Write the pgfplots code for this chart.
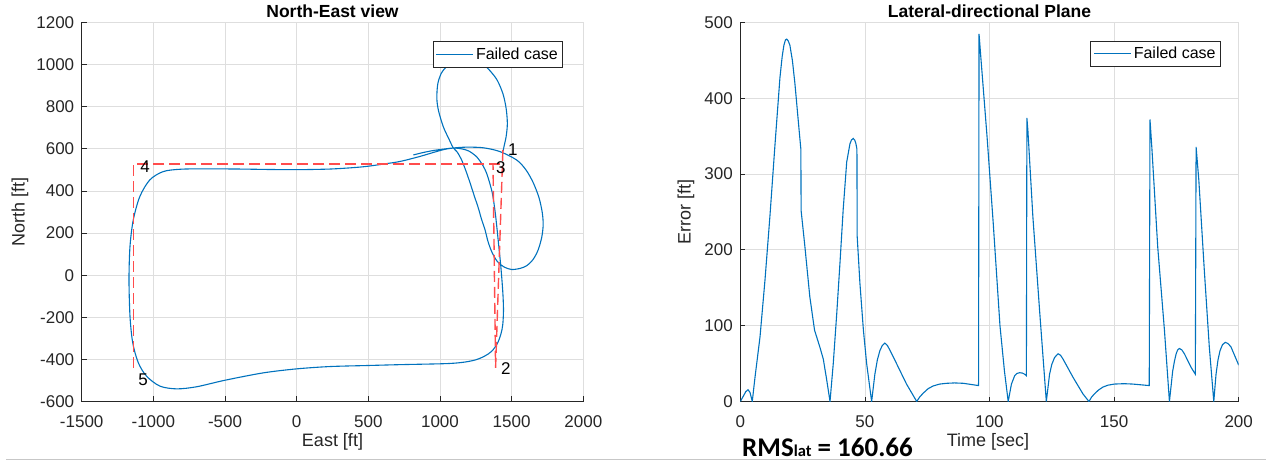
\documentclass[border=0pt]{standalone}
\usepackage{pgfplots}
\pgfplotsset{compat=1.18}
\usepackage{fontspec}
\setmainfont{Liberation Sans}
\newfontfamily\calibri{Carlito}

\definecolor{mblue}{rgb}{0,0.447,0.741}
\definecolor{mred}{rgb}{1,0.3,0.3}
\definecolor{axgray}{rgb}{0.15,0.15,0.15}
\definecolor{gridgray}{rgb}{0.87,0.87,0.87}

\pgfplotsset{
  matlab/.style={
    scale only axis,
    axis lines=left,
    axis line style={-, axgray, line width=1pt},
    grid=major,
    major grid style={gridgray, line width=0.8pt},
    tick align=inside,
    major tick length=5pt,
    tick style={axgray, line width=0.8pt},
    tick label style={font=\fontsize{17}{17}\selectfont, text=axgray},
    /pgf/number format/assume math mode=true,
    /pgf/number format/1000 sep={},
    scaled ticks=false,
    xticklabel style={yshift=-11pt},
    yticklabel style={xshift=-4pt},
    label style={font=\fontsize{18}{18}\selectfont, text=axgray},
    every axis title shift=0pt,
    title style={font=\bfseries\fontsize{17.5}{17.5}\selectfont, anchor=center, text=black},
    legend style={font=\fontsize{16}{16}\selectfont, draw=axgray, line width=0.8pt,
      fill=white, anchor=north east, inner xsep=3pt, inner ysep=4pt},
    legend image code/.code={\draw[#1] (0pt,0pt) -- (37pt,0pt);},
  }
}

\begin{document}
\begin{tikzpicture}
\path[use as bounding box] (0,0) rectangle (1266pt,463pt);

% ---------------- North-East view ----------------
\begin{axis}[matlab,
  at={(81.7pt,61.5pt)}, anchor=south west,
  width=501.6pt, height=379pt,
  xmin=-1500, xmax=2000, ymin=-600, ymax=1200,
  xtick={-1500,-1000,...,2000}, ytick={-600,-400,...,1200},
  title={North-East view},
  title style={at={(axis description cs:0.5,1.029)}},
  xlabel={East [ft]}, ylabel={North [ft]},
  xlabel style={at={(axis description cs:0.5,-0.106)}, anchor=center},
  ylabel style={at={(axis description cs:-0.123,0.5)}, anchor=center},
  legend style={at={(axis description cs:0.960,0.950)}},
]
% flown track
\addplot[mblue, line width=1.1pt, smooth, tension=0.5] coordinates {
 (814,571) (880,582) (953,592) (1030,599) (1093,604)
 (1150,600) (1200,590) (1256,562) (1300,520) (1326,483) (1350,430) (1368,380)
 (1385,300) (1398,220) (1410,140) (1422,60) (1432,-20) (1440,-100) (1443,-170)
 (1438,-235) (1425,-280) (1400,-325) (1360,-362) (1310,-385) (1250,-402)
 (1180,-412) (1100,-418) (1000,-421) (721,-425) (500,-429) (232,-434) (0,-445)
 (-233,-464) (-500,-499) (-698,-530) (-837,-540) (-954,-527) (-1047,-480)
 (-1105,-416) (-1144,-321) (-1163,-195) (-1170,-21) (-1163,137) (-1140,263)
 (-1094,374) (-1024,453) (-931,492) (-813,503) (-650,505) (-400,504) (-200,502)
 (0,501) (232,504) (400,511) (494,517) (608,528) (721,540) (850,562) (950,582)
 (1030,597) (1093,604)
 (1186,608) (1302,605) (1418,587) (1535,547) (1600,500) (1650,440) (1690,370)
 (1713,300) (1720,240) (1710,180) (1685,120) (1650,75) (1605,45) (1558,32)
 (1500,27) (1450,38) (1400,65) (1362,110) (1335,160) (1314,216) (1291,263)
 (1267,320) (1240,375) (1209,440) (1180,497) (1151,547) (1120,585) (1093,604)
 (1060,650) (1023,705) (990,780) (978,840) (985,910) (1010,960) (1045,990)
 (1090,1015) (1150,1032) (1220,1035) (1290,1010) (1350,970) (1400,925)
 (1440,860) (1462,790) (1470,720) (1462,660) (1448,615) (1440,588)
};
\addlegendentry{Failed case}
% reference waypoint legs
\addplot[mred, line width=1.4pt, dash pattern=on 11pt off 5pt, forget plot] coordinates {
 (1439,595) (1388,-440) (1370,528)
};
\addplot[mred, line width=1.4pt, dash pattern=on 11pt off 5pt, forget plot] coordinates {
 (1420,528) (-1140,528) (-1140,-456)
};
\begin{scope}[every node/.style={font=\fontsize{17}{17}\selectfont, text=black, anchor=center}]
\node at (axis cs:1509,595) {1};
\node at (axis cs:1460,-443) {2};
\node at (axis cs:1425,510) {3};
\node at (axis cs:-1058,514) {4};
\node at (axis cs:-1072,-495) {5};
\end{scope}
\end{axis}

% ---------------- Lateral-directional Plane ----------------
\begin{axis}[matlab,
  at={(740.3pt,61.5pt)}, anchor=south west,
  width=498.4pt, height=379pt,
  xmin=0, xmax=200, ymin=0, ymax=500,
  xtick={0,50,...,200}, ytick={0,100,...,500},
  title={Lateral-directional Plane},
  title style={at={(axis description cs:0.5,1.029)}},
  xlabel={Time [sec]}, ylabel={Error [ft]},
  xlabel style={at={(axis description cs:0.497,-0.106)}, anchor=center},
  ylabel style={at={(axis description cs:-0.109,0.5)}, anchor=center},
  legend style={at={(axis description cs:0.9645,0.952)}},
]
\addplot[mblue, line width=1.1pt] coordinates {
 (0,0) (1.2,7) (2.2,13) (3.1,15.5) (3.9,12) (4.8,0) (5.9,32) (7.9,85) (9.9,160)
 (11.9,245) (13.9,338) (15.9,427) (16.8,455) (17.5,470) (18.1,477) (18.6,478)
 (19.2,476) (19.9,470) (20.9,450) (21.9,420)
 (23.9,347) (24.3,333) (24.4,252) (25.9,205) (27.9,138) (29.8,94) (31.9,72)
 (33.3,56) (34.6,30) (36,0) (37.3,50) (38.7,116) (40,183) (41.3,254) (42.7,316)
 (44,340) (44.6,345) (45.3,347) (45.9,345) (46.4,340) (46.8,333) (46.9,218)
 (48,156) (49.4,94) (50.7,50) (52.7,0) (54,36) (55,55) (56,67) (57,74) (58,77)
 (59,74) (60,68) (62.7,50) (66.7,23) (70.8,0) (72,6) (73.4,11) (75.4,17)
 (77.4,20.5) (80,23) (82.8,24) (86,24.5) (89.5,24) (95.6,21) (95.8,485)
 (96.5,455) (99,350) (101.5,235) (104.2,100) (106,40) (107.5,0)
 (108.8,23) (110.1,34) (111,37) (112.1,38) (113.2,37.5) (114.1,36) (114.8,34)
 (115.0,374) (115.4,358) (117.4,244) (120.1,120) (122.8,0) (124.1,36) (125,49)
 (126.1,58) (127.5,63) (128.5,61) (129.5,56) (133.5,32) (137.5,10) (139.9,0)
 (141,6) (142.1,10) (143.7,15) (145.5,19) (147.5,21.5) (150.1,23) (154,23.5)
 (157.5,23) (164.1,21) (164.4,372) (165.2,332) (167.5,204) (170.2,94) (172.2,0)
 (173.5,40) (174.2,53) (174.9,63) (175.5,68) (176.2,70) (177.2,68) (178.2,63)
 (180.9,45) (182.6,36) (182.9,336) (184,292) (186.2,173) (188.2,72) (190,0)
 (190.9,36) (191.7,55) (192.5,67) (193.5,75) (194.6,78) (195.7,76.5) (196.9,72)
 (200,48)
};
\addlegendentry{Failed case}
\end{axis}

% summary value under the error plot
\node[anchor=base west, inner sep=0pt, text=black] at (742pt,6.3pt)
  {\calibri\bfseries\fontsize{27}{27}\selectfont RMS{\fontsize{16.5}{16.5}\selectfont lat} = 160.66};
\draw[black!22, line width=1.2pt] (6pt,3.5pt) -- (1266pt,3.5pt);
\end{tikzpicture}
\end{document}
